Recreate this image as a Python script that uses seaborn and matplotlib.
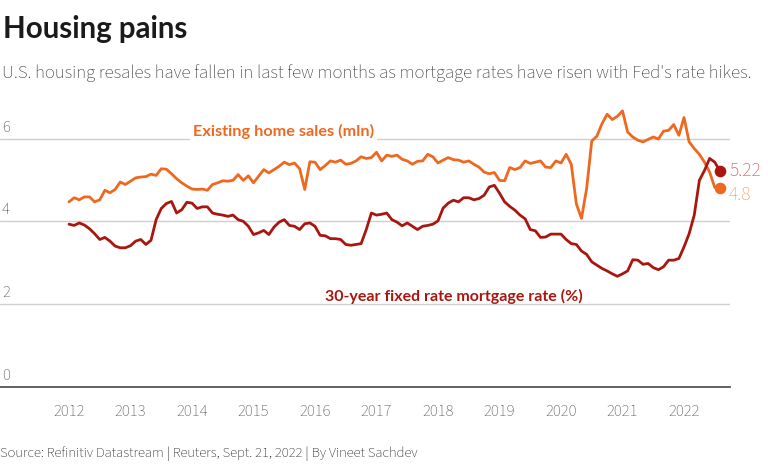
import numpy as np
import pandas as pd
import matplotlib
matplotlib.use("Agg")
import matplotlib.pyplot as plt
import seaborn as sns
from matplotlib import font_manager as fm

# ---------------- data (monthly, Jan 2012 - Aug 2022) ----------------
home_2012 = [4.47, 4.57, 4.52, 4.59, 4.59, 4.47, 4.52, 4.75, 4.69, 4.77, 4.95, 4.89]
home_2013 = [4.97, 5.05, 5.07, 5.08, 5.14, 5.11, 5.27, 5.26, 5.15, 5.03, 4.93, 4.85]
home_2014 = [4.78, 4.77, 4.78, 4.75, 4.89, 4.93, 4.98, 4.97, 4.99, 5.13, 4.99, 5.10]
home_2015 = [4.93, 5.09, 5.25, 5.17, 5.25, 5.33, 5.43, 5.37, 5.41, 5.27, 4.77, 5.44]
home_2016 = [5.43, 5.25, 5.35, 5.46, 5.43, 5.48, 5.38, 5.40, 5.46, 5.56, 5.52, 5.54]
home_2017 = [5.67, 5.46, 5.60, 5.57, 5.60, 5.50, 5.46, 5.38, 5.45, 5.46, 5.62, 5.56]
home_2018 = [5.41, 5.48, 5.54, 5.49, 5.48, 5.43, 5.46, 5.38, 5.31, 5.19, 5.15, 5.18]
home_2019 = [4.99, 4.98, 5.30, 5.25, 5.30, 5.46, 5.40, 5.43, 5.46, 5.31, 5.30, 5.46]
home_2020 = [5.41, 5.62, 5.38, 4.42, 4.07, 4.79, 5.94, 6.06, 6.36, 6.59, 6.46, 6.54]
home_2021 = [6.67, 6.16, 6.04, 5.96, 5.92, 5.98, 6.04, 5.99, 6.18, 6.20, 6.34, 6.08]
home_2022 = [6.51, 5.92, 5.76, 5.62, 5.43, 5.19, 4.82, 4.80]

rate_2012 = [3.93, 3.90, 3.96, 3.91, 3.82, 3.70, 3.56, 3.61, 3.52, 3.40, 3.36, 3.36]
rate_2013 = [3.41, 3.52, 3.56, 3.44, 3.54, 4.04, 4.31, 4.43, 4.48, 4.20, 4.28, 4.46]
rate_2014 = [4.44, 4.31, 4.35, 4.35, 4.20, 4.17, 4.15, 4.12, 4.15, 4.04, 4.00, 3.88]
rate_2015 = [3.68, 3.72, 3.78, 3.68, 3.86, 3.98, 4.04, 3.90, 3.88, 3.80, 3.94, 3.96]
rate_2016 = [3.88, 3.66, 3.65, 3.58, 3.58, 3.56, 3.44, 3.42, 3.44, 3.46, 3.80, 4.20]
rate_2017 = [4.15, 4.17, 4.20, 4.04, 3.98, 3.89, 3.96, 3.88, 3.80, 3.88, 3.90, 3.93]
rate_2018 = [4.01, 4.32, 4.44, 4.51, 4.47, 4.57, 4.57, 4.52, 4.55, 4.63, 4.83, 4.87]
rate_2019 = [4.68, 4.47, 4.36, 4.27, 4.15, 4.06, 3.80, 3.77, 3.61, 3.62, 3.69, 3.69]
rate_2020 = [3.69, 3.56, 3.46, 3.44, 3.28, 3.20, 3.02, 2.94, 2.86, 2.80, 2.73, 2.67]
rate_2021 = [2.73, 2.80, 3.07, 3.06, 2.96, 2.98, 2.88, 2.83, 2.90, 3.06, 3.06, 3.10]
rate_2022 = [3.38, 3.70, 4.15, 4.99, 5.23, 5.52, 5.43, 5.22]

year_ticks = [2012, 2013, 2014, 2015, 2016, 2017, 2018, 2019, 2020, 2021, 2022]
y_ticks = [0, 2, 4, 6]

title = "Housing pains"
subtitle = ("U.S. housing resales have fallen in last few months as mortgage "
            "rates have risen with Fed's rate hikes.")
source = "Source: Refinitiv Datastream | Reuters, Sept. 21, 2022 | By Vineet Sachdev"
home_label = "Existing home sales (mln)"
rate_label = "30-year fixed rate mortgage rate (%)"

home = (home_2012 + home_2013 + home_2014 + home_2015 + home_2016 + home_2017
        + home_2018 + home_2019 + home_2020 + home_2021 + home_2022)
rate = (rate_2012 + rate_2013 + rate_2014 + rate_2015 + rate_2016 + rate_2017
        + rate_2018 + rate_2019 + rate_2020 + rate_2021 + rate_2022)
dates = pd.date_range("2012-01-01", periods=len(home), freq="MS")
dec_year = dates.year + (dates.month - 1) / 12.0
df = pd.DataFrame({"t": dec_year, "home": home, "rate": rate})

# ---------------- fonts ----------------
sns.set_theme(style="white")

def wnum(w):
    if isinstance(w, (int, float)):
        return int(w)
    return fm.weight_dict.get(str(w).lower(), 400)

weights = {}
for f in fm.fontManager.ttflist:
    weights.setdefault(f.name, set()).add(wnum(f.weight))

def has(name, lo, hi):
    return any(lo <= w <= hi for w in weights.get(name, ()))

reg_cands = ["Source Sans 3", "Source Sans Pro", "Lato", "Open Sans", "Noto Sans", "DejaVu Sans"]
fam = next((c for c in reg_cands if c in weights), "DejaVu Sans")
bold_fam = next((c for c in reg_cands if has(c, 600, 800)), "DejaVu Sans")
plt.rcParams["font.family"] = [fam, "DejaVu Sans"]
BOLD = dict(family=[bold_fam, "DejaVu Sans"], fontweight="bold")

ORANGE = "#ef6820"
DARKRED = "#a8170f"
GRID = "#cfcfcf"
TICK = "#555555"

W, H = 768, 465
fig = plt.figure(figsize=(W / 100, H / 100), dpi=100)

# pixel geometry
px_2012, px_per_year = 69.0, 61.5
ax_left_px, ax_right_px = 0.0, 730.0
y0_px, px_per_unit = 386.7, 41.35
ax_top_px = 100.0

ax = fig.add_axes([ax_left_px / W, (H - y0_px) / H,
                   (ax_right_px - ax_left_px) / W, (y0_px - ax_top_px) / H])
ax.set_xlim(2012 + (ax_left_px - px_2012) / px_per_year,
            2012 + (ax_right_px - px_2012) / px_per_year)
ax.set_ylim(0, (y0_px - ax_top_px) / px_per_unit)

sns.lineplot(data=df, x="t", y="home", ax=ax, color=ORANGE, lw=2.0, zorder=3)
sns.lineplot(data=df, x="t", y="rate", ax=ax, color=DARKRED, lw=2.0, zorder=4)
ax.scatter([df.t.iloc[-1]], [df.home.iloc[-1]], s=70, color=ORANGE, zorder=5, linewidths=0)
ax.scatter([df.t.iloc[-1]], [df.rate.iloc[-1]], s=70, color=DARKRED, zorder=6, linewidths=0)

# grid & axes
ax.set_yticks(y_ticks)
ax.yaxis.grid(True, color=GRID, lw=1.0, zorder=0)
ax.tick_params(axis="y", length=0, labelleft=False)
ax.set_xticks(year_ticks)
ax.set_xticklabels([str(y) for y in year_ticks], fontsize=12, color=TICK)
ax.tick_params(axis="x", direction="out", length=4.3, width=1.0, color="#555555", pad=8)
for s in ["top", "right", "left"]:
    ax.spines[s].set_visible(False)
ax.spines["bottom"].set_color("#555555")
ax.spines["bottom"].set_linewidth(1.3)
ax.set_xlabel("")
ax.set_ylabel("")

# y tick labels above gridlines at left edge
for v in y_ticks:
    ax.annotate(str(v), xy=(0, v), xycoords=("axes fraction", "data"),
                xytext=(2, 3), textcoords="offset pixels", ha="left", va="bottom",
                fontsize=12, color=TICK)

def px_to_year(px):
    return 2012 + (px - px_2012) / px_per_year

def px_to_val(py):
    return (y0_px - py) / px_per_unit

# series labels
t_home = ax.text(px_to_year(283.5), px_to_val(136), home_label, ha="center", va="baseline",
                 fontsize=11, color=ORANGE, zorder=2,
                 bbox=dict(facecolor="white", edgecolor="none", pad=2), **BOLD)
t_rate = ax.text(px_to_year(454), px_to_val(301), rate_label, ha="center", va="baseline",
                 fontsize=11, color=DARKRED, zorder=2, **BOLD)

# end value labels
ax.text(px_to_year(729), df.rate.iloc[-1], f"{df.rate.iloc[-1]:.2f}", ha="left", va="center",
        fontsize=14, color="#c4524c", clip_on=False)
ax.text(px_to_year(729), px_to_val(195), f"{df.home.iloc[-1]:g}", ha="left", va="center",
        fontsize=14, color="#f29a5c", clip_on=False)

# titles
t_title = fig.text(3 / W, 1 - 38 / H, title, ha="left", va="baseline",
                   fontsize=20, color="#1a1a1a", **BOLD)
t_sub = fig.text(2 / W, 1 - 78 / H, subtitle, ha="left", va="baseline",
                 fontsize=12.5, color="#3a3a3a")
t_src = fig.text(0 / W, 1 - 457 / H, source, ha="left", va="baseline",
                 fontsize=10, color="#1f1f1f")

# fit text widths to the reference
fig.canvas.draw()
r = fig.canvas.get_renderer()
for art, target in [(t_title, 185), (t_sub, 749), (t_src, 420), (t_home, 181), (t_rate, 258)]:
    patch = art.get_bbox_patch()
    if patch is not None:
        patch.set_visible(False)
    bb = art.get_window_extent(r)
    if patch is not None:
        patch.set_visible(True)
    art.set_fontsize(art.get_fontsize() * target / bb.width)

fig.savefig("out.png", dpi=100)
